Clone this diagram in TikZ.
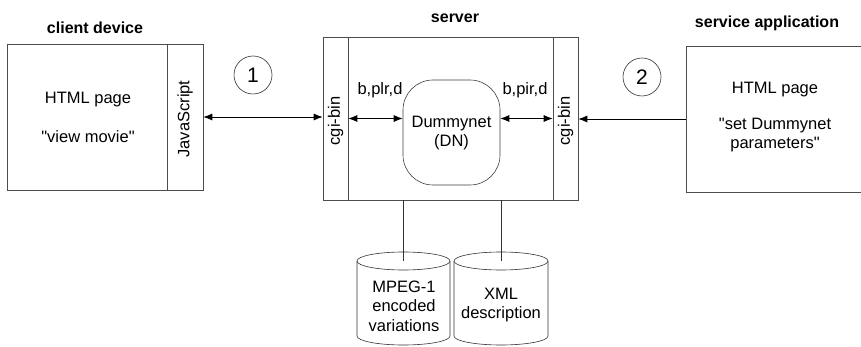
\documentclass[tikz,border=0pt]{standalone}
\usepackage{fontspec}
\setmainfont{Liberation Sans}
\usetikzlibrary{arrows.meta}
\begin{document}
\begin{tikzpicture}[x=1pt,y=-1pt,
  box/.style={draw=black!70,line width=0.6pt,inner sep=0pt,minimum width=#1},
  txt/.style={font=\fontsize{16.5}{19.5}\selectfont,inner sep=0pt,align=center},
  ttl/.style={font=\fontsize{16}{19}\selectfont\bfseries,inner sep=0pt},
  vtxt/.style={txt,rotate=90},
  conn/.style={draw=black,line width=0.8pt},
  tip/.style={-{Latex[length=9pt,width=7pt]}},
  tips/.style={{Latex[length=9pt,width=7pt]}-{Latex[length=9pt,width=7pt]}},
  num/.style={draw=black!80,line width=0.6pt,circle,minimum size=38pt,inner sep=0pt,font=\fontsize{21}{22}\selectfont},
  line/.style={draw=black!80,line width=0.6pt}]
\clip (0,0) rectangle (861,347);
\fill[white] (0,0) rectangle (861,347);

% titles
\node[ttl] (tclient) at (95,28) {client device};
\node[ttl] (tserver) at (455,18) {server};
\node[ttl] (tservice) at (767,23) {service application};

% client device
\node[box=160pt,minimum height=146pt] (client) at (87,117) {};
\node[box=36pt,minimum height=146pt] (js) at (185,117) {};
\node[vtxt] (jstext) at (185,119) {JavaScript};
\node[txt] (chtml) at (88,100) {HTML page};
\node[txt] (cview) at (88,137) {\textquotedbl view movie\textquotedbl};

% server
\node[box=25pt,minimum height=163pt] (cgil) at (335.5,118.5) {};
\node[box=205pt,minimum height=163pt] (srv) at (450.5,118.5) {};
\node[box=25pt,minimum height=163pt] (cgir) at (565.5,118.5) {};
\node[vtxt] (cgiltext) at (335.5,121) {cgi-bin};
\node[vtxt] (cgirtext) at (565.5,121) {cgi-bin};
\node[draw=black!75,line width=0.6pt,rounded corners=30pt,minimum width=97pt,minimum height=105pt,inner sep=0pt] (dn) at (451.5,132.5) {};
\node[txt] (dntext) at (451.5,133) {Dummynet\\(DN)};
\node[txt] (lblL) at (380,90) {b,plr,d};
\node[txt] (lblR) at (525,90) {b,pir,d};

% service application
\node[draw=black!70,line width=0.6pt,inner sep=0pt,minimum width=190pt,minimum height=146pt] (svc) at (781,119) {};
\node[txt] (shtml) at (775,90) {HTML page};
\node[txt] (sset) at (775,135) {\textquotedbl set Dummynet\\parameters\textquotedbl};

% numbers
\node[num] (n1) at (253,75) {1};
\node[num] (n2) at (642,77) {2};

% connectors
\draw[conn,tips] (js.east) -- (js.east -| cgil.west);
\draw[conn,tip] (svc.west) -- (svc.west -| cgir.east);
\draw[conn,tips] (cgil.east) -- (cgil.east -| dn.west);
\draw[conn,tips] (cgir.west -| dn.east) -- (cgir.west);

% cylinders
\coordinate (mtop) at (403.5,261);
\coordinate (xtop) at (501,261);
\draw[line] (357,261) -- (357,336) arc[start angle=180,end angle=360,x radius=46.5pt,y radius=9pt] -- (450,261);
\draw[line] (mtop) ellipse[x radius=46.5pt,y radius=9pt];
\fill[white] (454,261) -- (454,336) arc[start angle=180,end angle=360,x radius=47pt,y radius=9pt] -- (548,261) -- cycle;
\draw[line] (454,261) -- (454,336) arc[start angle=180,end angle=360,x radius=47pt,y radius=9pt] -- (548,261);
\draw[line,fill=white] (xtop) ellipse[x radius=47pt,y radius=9pt];
\node[txt] (mpeg) at (404,306) {MPEG-1\\encoded\\variations};
\node[txt] (xml) at (501,305) {XML\\description};
\draw[line] (srv.south -| mtop) -- (mtop);
\draw[line] (srv.south -| xtop) -- (xtop);
\end{tikzpicture}
\end{document}
